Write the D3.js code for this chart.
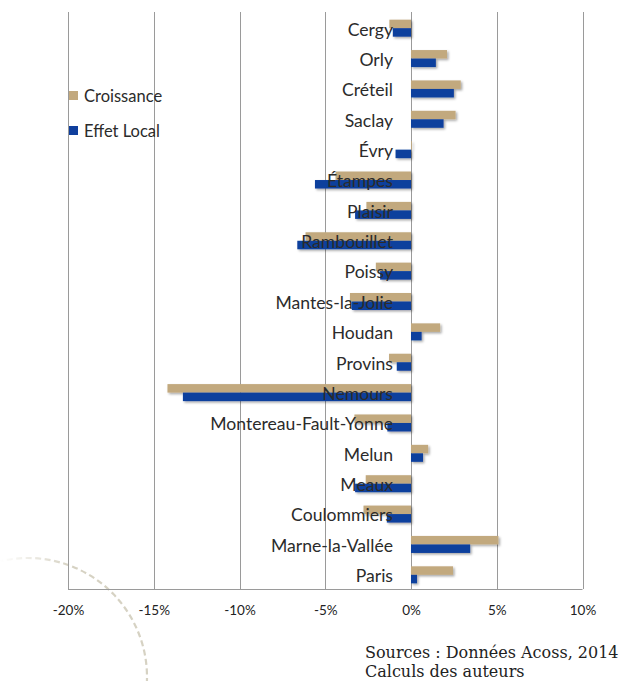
<!DOCTYPE html>
<html>
<head>
<meta charset="utf-8">
<script src="https://cdn.jsdelivr.net/npm/d3@7"></script>
<style>
  html, body { margin: 0; padding: 0; background: #ffffff; }
  svg { display: block; }
</style>
</head>
<body>
<svg id="chart" width="619" height="681"></svg>
<script>
const categories = ["Cergy","Orly","Créteil","Saclay","Évry","Étampes","Plaisir","Rambouillet","Poissy","Mantes-la-Jolie","Houdan","Provins","Nemours","Montereau-Fault-Yonne","Melun","Meaux","Coulommiers","Marne-la-Vallée","Paris"];
const croissance = [-1.26, 2.1, 2.9, 2.6, 0.05, -4.4, -2.6, -6.15, -2.05, -3.56, 1.7, -1.28, -14.2, -3.3, 1.0, -2.64, -2.77, 5.1, 2.45];
const effetLocal = [-1.06, 1.45, 2.5, 1.9, -0.9, -5.6, -3.26, -6.63, -1.8, -3.45, 0.62, -0.83, -13.3, -1.38, 0.7, -3.26, -1.41, 3.45, 0.35];
const seriesNames = ["Croissance", "Effet Local"];
const seriesColors = ["#c2a97e", "#0f3f9d"];
const tickValues = [-20, -15, -10, -5, 0, 5, 10];
const tickLabels = ["-20%", "-15%", "-10%", "-5%", "0%", "5%", "10%"];
const sourceLines = ["Sources : Données Acoss, 2014", "Calculs des auteurs"];

const svg = d3.select("#chart");
const defs = svg.append("defs");

const shadow = defs.append("filter").attr("id", "shadow")
  .attr("x", "-10%").attr("y", "-40%").attr("width", "130%").attr("height", "200%");
shadow.append("feDropShadow").attr("dx", 1.5).attr("dy", 1.5)
  .attr("stdDeviation", 0.9).attr("flood-color", "#000").attr("flood-opacity", 0.35);

const grad = defs.append("linearGradient").attr("id", "arcfade")
  .attr("gradientUnits", "userSpaceOnUse")
  .attr("x1", 0).attr("y1", 0).attr("x2", 70).attr("y2", 0);
grad.append("stop").attr("offset", 0).attr("stop-color", "#d6d2c3").attr("stop-opacity", 0);
grad.append("stop").attr("offset", 1).attr("stop-color", "#d6d2c3").attr("stop-opacity", 1);

// decorative dashed arc
const arcPath = d3.path();
arcPath.arc(28, 677, 119, -1.83, 0.3);
svg.append("path").attr("d", arcPath.toString())
  .attr("fill", "none").attr("stroke", "url(#arcfade)")
  .attr("stroke-width", 2.2).attr("stroke-dasharray", "6,3.5");

const plotTop = 12, plotBottom = 589;
const x = d3.scaleLinear().domain([-20, 10]).range([68, 582.5]);
const y = d3.scaleBand().domain(categories).range([plotTop + 1, plotBottom + 1]).paddingInner(0.44).paddingOuter(0.22);
const ySub = d3.scaleBand().domain(seriesNames).range([0, y.bandwidth()]).paddingInner(0);

// gridlines
svg.append("g").selectAll("line").data(tickValues).join("line")
  .attr("x1", d => Math.round(x(d)) + 0.5).attr("x2", d => Math.round(x(d)) + 0.5)
  .attr("y1", plotTop).attr("y2", plotBottom)
  .attr("stroke", "#9a9a9a").attr("stroke-width", 1);

// bottom axis
const xAxis = d3.axisBottom(x).tickValues(tickValues)
  .tickFormat((d, i) => tickLabels[i]).tickSize(0).tickPadding(16);
const gx = svg.append("g").attr("transform", `translate(0,${plotBottom + 0.5})`).call(xAxis);
gx.select(".domain").attr("stroke", "#9a9a9a").attr("d", `M${x(-20)},0H${x(10)}`);
gx.selectAll("text").attr("font-family", "Lato, sans-serif").attr("font-size", "13.5px").attr("fill", "#222");

// bars
const rows = categories.map((c, i) => ({ c, vals: [croissance[i], effetLocal[i]] }));
const gBars = svg.append("g").attr("filter", "url(#shadow)");
rows.forEach(r => {
  seriesNames.forEach((s, j) => {
    const v = r.vals[j];
    gBars.append("rect")
      .attr("x", x(Math.min(0, v)))
      .attr("width", Math.abs(x(v) - x(0)))
      .attr("y", y(r.c) + ySub(s))
      .attr("height", ySub.bandwidth())
      .attr("fill", seriesColors[j]);
  });
});

// category labels (drawn over the bars)
svg.append("g").selectAll("text").data(categories).join("text")
  .attr("x", x(0) - 18)
  .attr("y", d => y(d) + y.bandwidth() / 2 + 1)
  .attr("dy", "0.36em")
  .attr("text-anchor", "end")
  .attr("font-family", "Lato, sans-serif").attr("font-size", "17.6px")
  .attr("fill", "#2b2b2b")
  .text(d => d);

// legend
const legend = svg.append("g");
seriesNames.forEach((s, i) => {
  const ly = 96 + i * 35;
  legend.append("rect").attr("x", 69).attr("y", ly - 5).attr("width", 9).attr("height", 9).attr("fill", seriesColors[i]);
  legend.append("text").attr("x", 84).attr("y", ly).attr("dy", "0.35em")
    .attr("font-family", "Lato, sans-serif").attr("font-size", "16.5px").attr("fill", "#2b2b2b").text(s);
});

// sources
svg.append("g").selectAll("text").data(sourceLines).join("text")
  .attr("x", 365).attr("y", (d, i) => 658 + i * 19)
  .attr("font-family", "'DejaVu Serif', serif").attr("font-size", "16px").attr("fill", "#222")
  .text(d => d);
</script>
</body>
</html>
